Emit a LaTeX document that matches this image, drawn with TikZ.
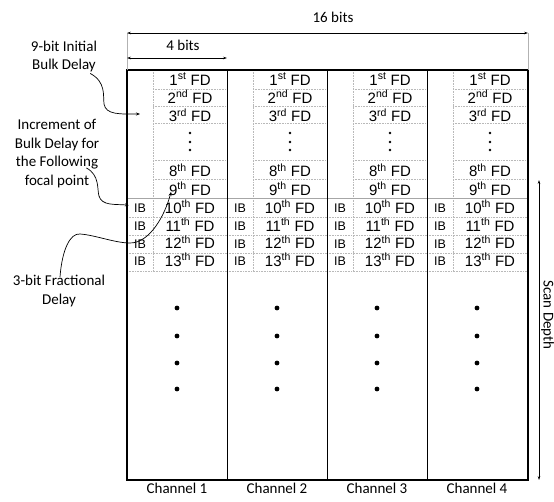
\documentclass[tikz,border=0pt]{standalone}
\usepackage{fontspec}
\setmainfont{Carlito}
\newfontfamily\arialfont{Liberation Sans}
\usetikzlibrary{arrows.meta}

\begin{document}
\begin{tikzpicture}[x=1pt, y=-1pt,
    lbl/.style={font=\fontsize{15}{18.6}\selectfont, align=center, inner sep=0pt},
    fd/.style={font=\arialfont\fontsize{15}{17}\selectfont, inner sep=0pt, anchor=base},
    ib/.style={font=\arialfont\fontsize{12.5}{14}\selectfont, inner sep=0pt, anchor=base},
    cell/.style={gray!55, densely dotted, line width=0.6pt},
    tip/.style={-{Stealth[length=4pt,width=3pt]}, line width=0.7pt},
    dim/.style={{Stealth[length=4pt,width=2.6pt]}-{Stealth[length=4pt,width=2.6pt]}, line width=0.6pt}]
    \useasboundingbox (0,0) rectangle (554,501);

    % Columns (one per channel)
    \foreach \c [evaluate=\c as \x using 27+100*\c] in {1,...,4} {
        % cell grid
        \draw[cell] (\x+26,70) -- (\x+26,271);
        \foreach \yy in {89,106,123,160,179}
            \draw[cell] (\x+26,\yy) -- (\x+100,\yy);
        \foreach \yy in {217,235,253,271}
            \draw[cell] (\x,\yy) -- (\x+100,\yy);
        \draw[gray!70, line width=0.6pt] (\x,198) -- (\x+100,198);

        % FD entries
        \foreach \r/\ord/\yb in {1/st/85, 2/nd/103, 3/rd/121.5, 8/th/176.5, 9/th/195,
                                 10/th/213, 11/th/231, 12/th/248.5, 13/th/266}
            \node[fd] (fd-\c-\r) at (\x+63,\yb) {\r\textsuperscript{\ord} FD};
        \foreach \r/\yb in {10/212.5, 11/230.5, 12/248, 13/265.5}
            \node[ib] (ib-\c-\r) at (\x+13,\yb) {IB};

        % vertical dots
        \foreach \yy in {133,142,150}
            \fill (\x+63,\yy) circle (1.3);
        \foreach \yy in {308,336,363,389}
            \fill (\x+50,\yy) circle (2.4);

        \node[lbl] (ch-\c) at (\x+50,488) {Channel \c};
    }
    \foreach \xx in {227,327,427}
        \draw[line width=0.7pt] (\xx,70) -- (\xx,480);
    \draw[line width=1.3pt] (127,70) rectangle (528,480);

    % Dimensions
    \draw[gray!60, line width=0.6pt] (127,33) -- (127,70);
    \draw[gray!60, line width=0.6pt] (528,33) -- (528,70);
    \coordinate (w-l) at (127,33);
    \coordinate (w-r) at (528,33);
    \draw[dim] (w-l) -- (w-r);
    \node[lbl] (n16) at (333,17) {16 bits};
    \coordinate (h-l) at (127,58);
    \coordinate (h-r) at (227,58);
    \draw[dim] (h-l) -- (h-r);
    \node[lbl] (n4) at (183,45) {4 bits};
    \coordinate (d-t) at (539,180);
    \coordinate (d-b) at (539,480);
    \draw[dim] (d-t) -- (d-b);
    \node[lbl, rotate=-90, anchor=base] (depth) at (543.5,315) {Scan Depth};

    % Annotations
    \node[lbl] (initial) at (64,56.5) {9-bit Initial\\Bulk Delay};
    \node[lbl] (incr) at (57,153.5) {Increment of\\Bulk Delay for\\the Following\\focal point};
    \node[lbl] (frac) at (59,291) {3-bit Fractional\\Delay};

    \coordinate (ib-1-3) at (140,114);
    \draw[tip] ([shift={(-7,1)}]initial.south east)
        .. controls (106,82) and (103,95) .. (104,104)
        .. controls (106,115) and (120,114) .. (ib-1-3);
    \draw[tip] ([shift={(-13,-20)}]incr.south east)
        .. controls (100,175) and (97,190) .. (99,196)
        .. controls (102,206) and (115,204) .. ([shift={(-5,-3)}]ib-1-10.west);
    \draw[tip] ([shift={(1,2)}]frac.north)
        .. controls (62,250) and (70,233) .. (80,234)
        .. controls (95,235) and (115,243) .. (130,243)
        .. controls (150,243) and (165,215) .. ([shift={(-19,-3)}]fd-1-9.base);
\end{tikzpicture}
\end{document}
